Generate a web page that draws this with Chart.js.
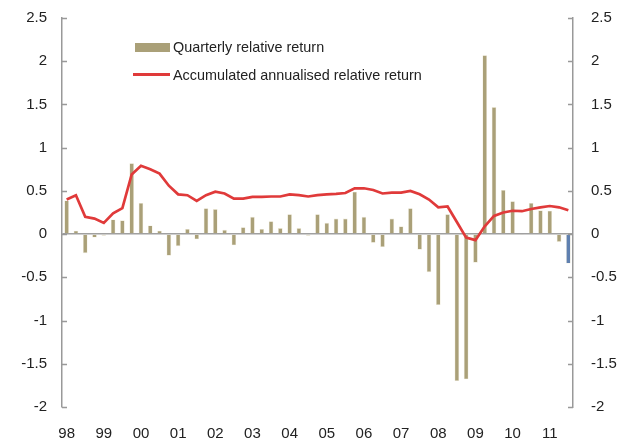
<!DOCTYPE html>
<html>
<head>
<meta charset="utf-8">
<script src="https://cdn.jsdelivr.net/npm/chart.js@4.4.1/dist/chart.umd.min.js"></script>
<style>
    body { margin: 0; background: #fff; }
    #wrap { position: relative; width: 630px; height: 443px; }
    .leg { position: absolute; font-family: "Liberation Sans", Arial, sans-serif; font-size: 14.4px; color: #222; }
    .sw-bar { position: absolute; left: 135px; top: 43px; width: 35px; height: 9px; background: #aaa078; }
    .sw-line { position: absolute; left: 133px; top: 73px; width: 37px; height: 3px; background: #e03a3a; }
</style>
</head>
<body>
<div id="wrap">
    <canvas id="chart"></canvas>
    <div class="sw-bar"></div>
    <div class="leg" style="left:173px; top:39px;">Quarterly relative return</div>
    <div class="sw-line"></div>
    <div class="leg" style="left:173px; top:67px;">Accumulated annualised relative return</div>
</div>
<script>
// quarters 98Q1 .. 11Q3
const years = ['98', '99', '00', '01', '02', '03', '04', '05', '06', '07', '08', '09', '10', '11'];
const quarters = [];
years.forEach(y => {
    for (let q = 1; q <= 4; q++) quarters.push(y + 'Q' + q);
});
quarters.length = 55;

const quarterlyReturn = [
    0.39, 0.04, -0.22, -0.04, -0.02, 0.17, 0.16, 0.82,
    0.36, 0.10, 0.04, -0.25, -0.14, 0.06, -0.06, 0.30,
    0.29, 0.05, -0.13, 0.08, 0.20, 0.06, 0.15, 0.07,
    0.23, 0.07, -0.02, 0.23, 0.13, 0.18, 0.18, 0.49,
    0.20, -0.10, -0.15, 0.18, 0.09, 0.30, -0.18, -0.44,
    -0.82, 0.23, -1.70, -1.68, -0.33, 2.07, 1.47, 0.51,
    0.38, -0.01, 0.36, 0.275, 0.27, -0.09, -0.34
];

const accumulatedReturn = [
    0.40, 0.45, 0.20, 0.18, 0.13, 0.24, 0.30, 0.69,
    0.79, 0.75, 0.70, 0.56, 0.46, 0.45, 0.385, 0.45,
    0.49, 0.47, 0.41, 0.41, 0.43, 0.43, 0.435, 0.435,
    0.46, 0.45, 0.435, 0.45, 0.46, 0.465, 0.475, 0.53,
    0.53, 0.51, 0.47, 0.48, 0.48, 0.50, 0.46, 0.40,
    0.31, 0.32, 0.14, -0.04, -0.07, 0.09, 0.21, 0.25,
    0.27, 0.265, 0.29, 0.31, 0.325, 0.31, 0.275
];

const yTicks = [-2, -1.5, -1, -0.5, 0, 0.5, 1, 1.5, 2, 2.5];

const barColors = quarterlyReturn.map((v, i) => i === quarterlyReturn.length - 1 ? '#5f80b0' : '#aaa078');

const font = { family: '"Liberation Sans", Arial, sans-serif', size: 15 };

// small tick marks pointing into the plot on both value axes
const innerTicks = {
    id: 'innerTicks',
    afterDraw(chart) {
        const ctx = chart.ctx;
        const area = chart.chartArea;
        const y = chart.scales.y;
        ctx.save();
        ctx.strokeStyle = '#999';
        ctx.lineWidth = 1.5;
        yTicks.forEach(v => {
            const py = Math.round(y.getPixelForValue(v)) + 0.5;
            ctx.beginPath();
            ctx.moveTo(area.left, py);
            ctx.lineTo(area.left + 5, py);
            ctx.moveTo(area.right - 5, py);
            ctx.lineTo(area.right, py);
            ctx.stroke();
        });
        ctx.restore();
    }
};

// fixed axis sizes, no extra label padding above/below the plot
function fitValueAxis(width) {
    return s => {
        s.width = width;
        s.paddingTop = 0;
        s.paddingBottom = 0;
    };
}

new Chart(document.getElementById('chart'), {
    data: {
        labels: quarters,
        datasets: [
            {
                type: 'line',
                label: 'Accumulated annualised relative return',
                data: accumulatedReturn,
                borderColor: '#e03a3a',
                borderWidth: 2.7,
                pointRadius: 0,
                tension: 0,
                order: 0,
                yAxisID: 'y'
            },
            {
                type: 'bar',
                label: 'Quarterly relative return',
                data: quarterlyReturn,
                backgroundColor: barColors,
                borderColor: 'rgba(235,230,210,0.9)',
                borderWidth: 0.6,
                categoryPercentage: 1,
                barPercentage: 0.5,
                order: 1,
                yAxisID: 'y'
            }
        ]
    },
    options: {
        responsive: true,
        maintainAspectRatio: false,
        animation: false,
        layout: { padding: { top: 18, left: 0, right: 0, bottom: 0 } },
        plugins: {
            legend: { display: false },
            tooltip: { enabled: false }
        },
        scales: {
            x: {
                position: 'bottom',
                grid: { display: false },
                border: { display: false },
                ticks: {
                    autoSkip: false,
                    maxRotation: 0,
                    padding: 10,
                    color: '#222',
                    font: font,
                    callback: (val, idx) => idx % 4 === 0 ? years[idx / 4] : ''
                },
                afterFit: s => { s.height = 36; }
            },
            y: {
                position: 'left',
                min: -2,
                max: 2.5,
                afterBuildTicks: s => { s.ticks = yTicks.map(v => ({ value: v })); },
                grid: {
                    drawTicks: false,
                    color: ctx => ctx.tick && ctx.tick.value === 0 ? '#a0a0a0' : 'rgba(0,0,0,0)',
                    lineWidth: 1.5
                },
                border: { display: true, color: '#999', width: 1.5 },
                ticks: { padding: 15, color: '#222', font: font, callback: v => String(v) },
                afterFit: fitValueAxis(62)
            },
            y2: {
                position: 'right',
                min: -2,
                max: 2.5,
                afterBuildTicks: s => { s.ticks = yTicks.map(v => ({ value: v })); },
                grid: { display: false, drawTicks: false },
                border: { display: true, color: '#999', width: 1.5 },
                ticks: { padding: 18, color: '#222', font: font, callback: v => String(v) },
                afterFit: fitValueAxis(57)
            }
        }
    },
    plugins: [innerTicks]
});
</script>
</body>
</html>
